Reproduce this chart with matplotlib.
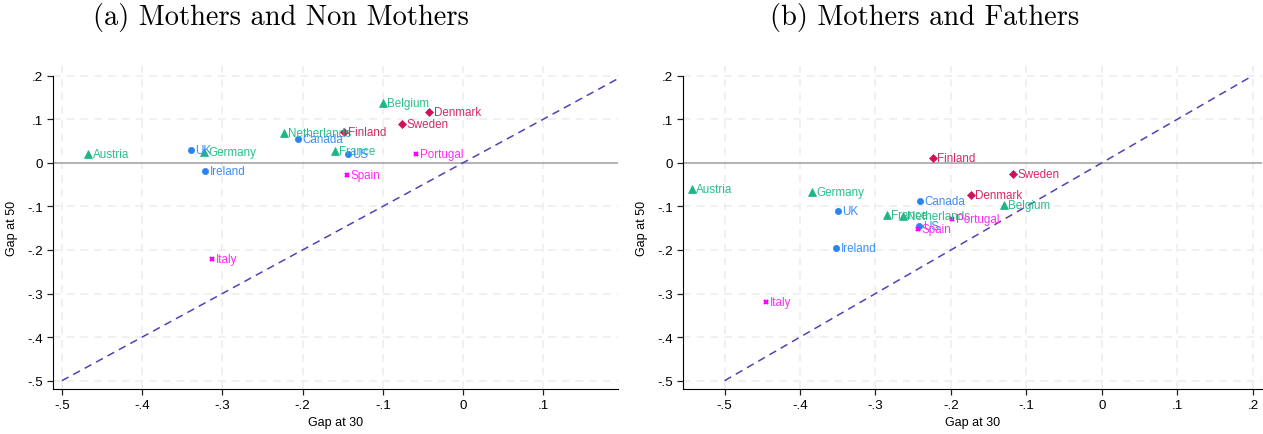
import matplotlib
matplotlib.use("Agg")
import matplotlib.pyplot as plt
import numpy as np

# panel (a): mothers vs non mothers
countries_a = ["Austria", "UK", "Germany", "Ireland", "Netherlands", "Canada", "Finland",
               "France", "US", "Belgium", "Denmark", "Sweden", "Portugal", "Spain", "Italy"]
gap30_a = [-0.467, -0.339, -0.323, -0.321, -0.223, -0.206, -0.148,
           -0.160, -0.144, -0.100, -0.042, -0.076, -0.059, -0.145, -0.313]
gap50_a = [0.020, 0.030, 0.024, -0.019, 0.069, 0.055, 0.071,
           0.026, 0.020, 0.137, 0.116, 0.089, 0.020, -0.028, -0.220]

# panel (b): mothers vs fathers
countries_b = ["Austria", "Germany", "UK", "Ireland", "France", "Netherlands", "Canada",
               "US", "Spain", "Portugal", "Finland", "Denmark", "Sweden", "Belgium", "Italy"]
gap30_b = [-0.543, -0.384, -0.350, -0.352, -0.285, -0.264, -0.241,
           -0.242, -0.244, -0.199, -0.224, -0.174, -0.118, -0.130, -0.445]
gap50_b = [-0.060, -0.066, -0.110, -0.196, -0.119, -0.121, -0.087,
           -0.146, -0.153, -0.129, 0.011, -0.073, -0.026, -0.096, -0.320]

group_of = {
    "Austria": "cont", "Germany": "cont", "Netherlands": "cont", "France": "cont", "Belgium": "cont",
    "UK": "anglo", "Ireland": "anglo", "Canada": "anglo", "US": "anglo",
    "Finland": "nordic", "Denmark": "nordic", "Sweden": "nordic",
    "Italy": "south", "Spain": "south", "Portugal": "south",
}
# marker, marker colour, label colour, size
styles = {
    "cont": ("^", "#1db584", "#2bbf8a", 5.5),
    "anglo": ("o", "#2a84f0", "#3d8ef5", 4.5),
    "nordic": ("D", "#d0125a", "#d92a62", 4.5),
    "south": ("x", "#ff00ff", "#ff2cf5", 3),
}

x_ticks = [-0.5, -0.4, -0.3, -0.2, -0.1, 0.0, 0.1, 0.2]
x_tick_labels = ["-.5", "-.4", "-.3", "-.2", "-.1", "0", ".1", ".2"]
y_ticks = [-0.5, -0.4, -0.3, -0.2, -0.1, 0.0, 0.1, 0.2]
y_tick_labels = ["-.5", "-.4", "-.3", "-.2", "-.1", "0", ".1", ".2"]

diag_a = [-0.5, 0.193]
diag_b = [-0.5, 0.2]

titles = ["(a) Mothers and Non Mothers", "(b) Mothers and Fathers"]

plt.rcParams["font.family"] = ["Liberation Sans", "DejaVu Sans"]

fig = plt.figure(figsize=(12.63, 4.35), dpi=100)
W, H = 1263, 435
ax_a = fig.add_axes([53 / W, 45 / H, (618 - 53) / W, 323 / H])
ax_b = fig.add_axes([683 / W, 45 / H, (1262 - 683) / W, 323 / H])

panels = [
    (ax_a, countries_a, gap30_a, gap50_a, diag_a, (-0.511, 0.193), 7),
    (ax_b, countries_b, gap30_b, gap50_b, diag_b, (-0.555, 0.212), 8),
]

for ax, names, gx, gy, diag, xl, nx in panels:
    ax.set_xlim(*xl)
    ax.set_ylim(-0.519, 0.222)
    ax.set_axisbelow(True)
    ax.set_xticks(x_ticks[:nx])
    ax.set_xticklabels(x_tick_labels[:nx])
    ax.set_yticks(y_ticks)
    ax.set_yticklabels(y_tick_labels)
    ax.grid(True, color="#ececec", linestyle=(0, (5, 4)), linewidth=1.1)
    ax.axhline(0, color="#b3b3b3", linewidth=1.4, zorder=1)
    ax.plot(diag, diag, color="#5a3db8", linestyle=(0, (5, 3.5)), linewidth=1.1, zorder=2)
    for name, x, y in zip(names, gx, gy):
        mk, mc, lc, ms = styles[group_of[name]]
        mew = 1.6 if mk == "x" else 0.5
        ax.plot(x, y, marker=mk, color=mc, markersize=ms, markeredgewidth=mew,
                linestyle="none", zorder=3)
        ax.annotate(name, (x, y), xytext=(3, 0), textcoords="offset points",
                    va="center", ha="left", color=lc, fontsize=8.4, zorder=4)
    for s in ["top", "right"]:
        ax.spines[s].set_visible(False)
    ax.spines["left"].set_bounds(-0.519, 0.2)
    ax.tick_params(direction="out", length=4, width=0.9, labelsize=9.6, color="#222222",
                   pad=3)
    ax.set_xlabel("Gap at 30", fontsize=9, labelpad=4)
    ax.set_ylabel("Gap at 50", fontsize=9, labelpad=7)

fig.text(281 / W, 1 - 18 / H, titles[0], ha="center", va="center",
         fontfamily="cmr10", fontsize=20.5)
fig.text(925 / W, 1 - 18 / H, titles[1], ha="center", va="center",
         fontfamily="cmr10", fontsize=20.5)

fig.savefig("out.png", dpi=100)
